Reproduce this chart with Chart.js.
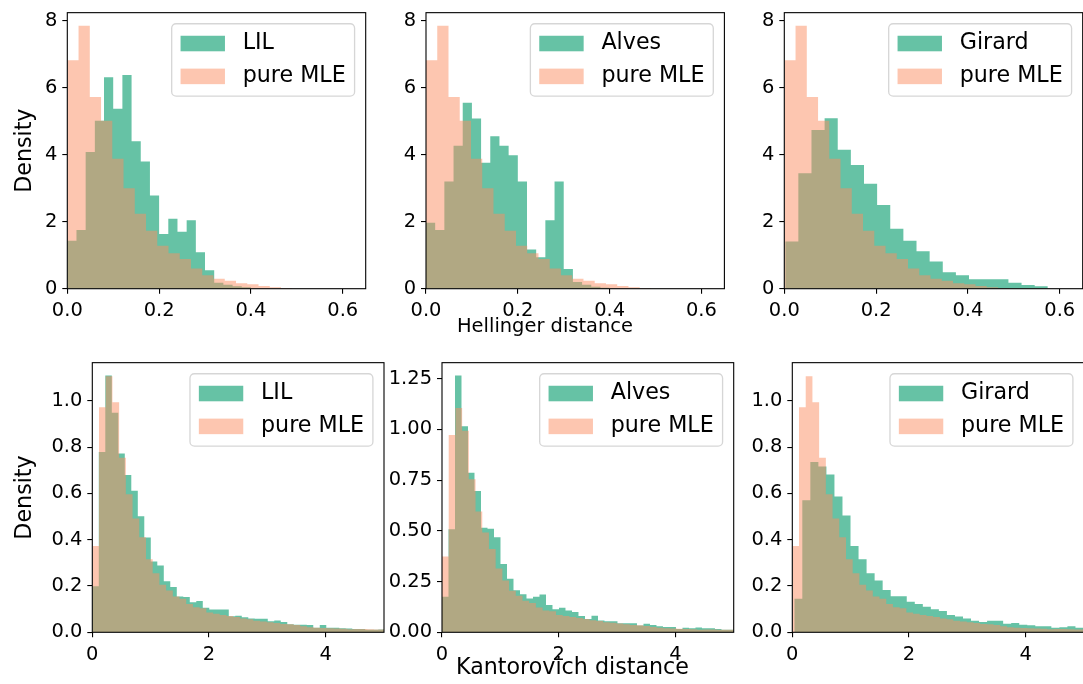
<!DOCTYPE html>
<html>
<head>
<meta charset="utf-8">
<script src="https://cdn.jsdelivr.net/npm/chart.js@4/dist/chart.umd.min.js"></script>
<style>
html, body { margin: 0; padding: 0; background: #ffffff; width: 1083px; height: 684px; overflow: hidden; }
.panel { position: absolute; }
.panel canvas { display: block; }
</style>
</head>
<body>
<div id="p1" class="panel"><canvas></canvas></div>
<div id="p2" class="panel"><canvas></canvas></div>
<div id="p3" class="panel"><canvas></canvas></div>
<div id="p4" class="panel"><canvas></canvas></div>
<div id="p5" class="panel"><canvas></canvas></div>
<div id="p6" class="panel"><canvas></canvas></div>
<script>
// ---------------- data ----------------
const methodNames = ['LIL', 'Alves', 'Girard'];
const baselineName = 'pure MLE';
const axisLabels = { density: 'Density', hellinger: 'Hellinger distance', kantorovich: 'Kantorovich distance' };

// tick values
const hellingerXTicks = [0, 0.2, 0.4, 0.6];
const hellingerYTicks = [0, 2, 4, 6, 8];
const kantorovichXTicks = [0, 2, 4];
const kantorovichYTicks = [0, 0.2, 0.4, 0.6, 0.8, 1.0];
const kantorovichYTicksAlves = [0, 0.25, 0.5, 0.75, 1.0, 1.25];

// Hellinger distance histograms (densities per bin)
const pureMleHellinger = [6.82, 7.85, 5.72, 5.01, 3.88, 3.0, 2.24, 1.73, 1.28, 1.06, 0.89, 0.6, 0.4, 0.3, 0.24, 0.16, 0.13, 0.08, 0.04, 0.02];
const pureMleHellingerBinStart = 0, pureMleHellingerBinWidth = 0.0245;
const lilHellinger = [1.43, 1.75, 4.08, 5.01, 6.31, 5.37, 6.38, 4.40, 3.80, 2.78, 1.63, 2.09, 1.70, 2.04, 1.09, 0.55, 0.18, 0.12, 0.07, 0.04];
const lilHellingerBinStart = 0, lilHellingerBinWidth = 0.02;
const alvesHellinger = [1.97, 1.75, 3.2, 4.27, 5.55, 5.08, 3.76, 4.55, 4.27, 3.98, 3.2, 1.17, 0.94, 2.04, 3.2, 0.59, 0.2, 0.12, 0.06, 0.03];
const alvesHellingerBinStart = 0, alvesHellingerBinWidth = 0.02;
const girardHellinger = [1.41, 3.45, 4.74, 5.09, 4.15, 3.69, 3.13, 2.5, 1.79, 1.43, 1.12, 0.81, 0.49, 0.40, 0.28, 0.28, 0.28, 0.18, 0.11, 0.07];
const girardHellingerBinStart = 0.002, girardHellingerBinWidth = 0.0286;

// Kantorovich distance histograms (densities per bin)
const pureMleKantorovich = [0.373, 0.972, 1.106, 0.993, 0.754, 0.596, 0.492, 0.411, 0.315, 0.255, 0.205, 0.18, 0.155, 0.145, 0.122, 0.108, 0.104, 0.085, 0.08, 0.075, 0.07, 0.066, 0.06, 0.056, 0.05, 0.047, 0.043, 0.04, 0.036, 0.035, 0.031, 0.026, 0.022, 0.02, 0.019, 0.017, 0.016, 0.015, 0.013, 0.014, 0.014, 0.013, 0.012, 0.012];
const pureMleKantorovichBinStart = 0, pureMleKantorovichBinWidth = 0.115;
const lilKantorovich = [0.199, 0.779, 1.109, 0.948, 0.772, 0.679, 0.611, 0.501, 0.409, 0.306, 0.288, 0.221, 0.196, 0.155, 0.152, 0.13, 0.135, 0.106, 0.098, 0.098, 0.098, 0.069, 0.072, 0.065, 0.06, 0.058, 0.058, 0.048, 0.051, 0.044, 0.035, 0.033, 0.033, 0.031, 0.020, 0.031, 0.020, 0.020, 0.017, 0.016, 0.014, 0.014, 0.011, 0.011, 0.012, 0.01];
const lilKantorovichBinStart = 0, lilKantorovichBinWidth = 0.1114;
const alvesKantorovich = [0.175, 0.508, 1.266, 1.015, 0.787, 0.696, 0.515, 0.51, 0.468, 0.337, 0.264, 0.207, 0.188, 0.167, 0.175, 0.186, 0.135, 0.113, 0.121, 0.107, 0.1, 0.08, 0.065, 0.081, 0.058, 0.054, 0.055, 0.045, 0.045, 0.045, 0.034, 0.042, 0.036, 0.03, 0.026, 0.026, 0.016, 0.023, 0.02, 0.024, 0.02, 0.02, 0.016, 0.013, 0.013, 0.012];
const alvesKantorovichBinStart = 0, alvesKantorovichBinWidth = 0.1114;
const girardKantorovich = [0.145, 0.57, 0.735, 0.716, 0.681, 0.586, 0.504, 0.373, 0.315, 0.255, 0.224, 0.183, 0.156, 0.156, 0.132, 0.122, 0.11, 0.1, 0.092, 0.075, 0.068, 0.06, 0.05, 0.044, 0.05, 0.05, 0.037, 0.04, 0.033, 0.03, 0.026, 0.026, 0.02, 0.022, 0.026, 0.02, 0.02];
const girardKantorovichBinStart = 0.034, girardKantorovichBinWidth = 0.1377;

// ---------------- styling ----------------
const FONT_FAMILY = "'DejaVu Sans', sans-serif";
const TICK_PX = 19.44;
const TITLE_PX = 22.2;
const LEGEND_PX = 22.2;
const METHOD_COLOR = 'rgba(102,194,165,1)';
const BASELINE_COLOR = 'rgba(252,141,98,0.5)';

function histPoints(values, start, width) {
  const pts = values.map((v, i) => ({ x: start + i * width, y: v }));
  pts.push({ x: start + values.length * width, y: 0 });
  return pts;
}

const framePlugin = {
  id: 'axesFrame',
  afterDatasetsDraw(chart) {
    const { ctx, chartArea: a } = chart;
    ctx.save();
    ctx.strokeStyle = '#000000';
    ctx.lineWidth = 1.1;
    ctx.strokeRect(a.left, a.top, a.right - a.left, a.bottom - a.top);
    ctx.restore();
  }
};

const insetLegendPlugin = {
  id: 'insetLegend',
  afterDraw(chart, args, opts) {
    const { ctx, chartArea: a } = chart;
    const F = opts.fontSize;
    ctx.save();
    ctx.font = F + 'px ' + FONT_FAMILY;
    const items = chart.data.datasets.map(d => ({ label: d.label, color: d.backgroundColor }));
    const textW = Math.max(...items.map(i => ctx.measureText(i.label).width));
    const pad = 0.4 * F, handle = 2 * F, gap = 0.8 * F, rowH = opts.rowHeight * F, spacing = 0.5 * F;
    const w = 2 * pad + handle + gap + textW;
    const h = 2 * pad + items.length * rowH + (items.length - 1) * spacing;
    const x = a.right - 0.5 * F - w, y = a.top + 0.5 * F;
    const r = 0.2 * F;
    ctx.beginPath();
    ctx.moveTo(x + r, y);
    ctx.arcTo(x + w, y, x + w, y + h, r);
    ctx.arcTo(x + w, y + h, x, y + h, r);
    ctx.arcTo(x, y + h, x, y, r);
    ctx.arcTo(x, y, x + w, y, r);
    ctx.closePath();
    ctx.fillStyle = 'rgba(255,255,255,0.8)';
    ctx.fill();
    ctx.strokeStyle = 'rgba(204,204,204,0.8)';
    ctx.lineWidth = 1.3;
    ctx.stroke();
    items.forEach((it, i) => {
      const cy = y + pad + rowH / 2 + i * (rowH + spacing);
      ctx.fillStyle = it.color;
      ctx.fillRect(x + pad, cy - 0.35 * F, handle, 0.7 * F);
      ctx.fillStyle = '#000000';
      ctx.textBaseline = 'middle';
      ctx.textAlign = 'left';
      ctx.fillText(it.label, x + pad + handle + gap, cy);
    });
    ctx.restore();
  }
};

// x-axis label placed at a fixed left edge (as in the figure)
const xLabelPlugin = {
  id: 'xLabel',
  afterDraw(chart, args, opts) {
    if (!opts.text) return;
    const ctx = chart.ctx;
    ctx.save();
    ctx.font = opts.size + 'px ' + FONT_FAMILY;
    ctx.fillStyle = '#000000';
    ctx.textAlign = 'left';
    ctx.textBaseline = 'middle';
    ctx.fillText(opts.text, opts.x, opts.y);
    ctx.restore();
  }
};

function makePanel(id, p) {
  const el = document.getElementById(id);
  const cl = Math.floor(p.left - p.yw);
  const ct = Math.floor(p.top - 12.5);
  const yw = p.left - cl;
  const tp = p.top - ct;
  const cw = Math.ceil(yw + p.width + 8);
  const rp = cw - yw - p.width;
  const ch = p.xTitleCenter ? Math.ceil(p.xTitleCenter + 16 - ct) : Math.ceil(tp + p.height + 45);
  const xh = ch - tp - p.height;
  el.style.left = cl + 'px'; el.style.top = ct + 'px';
  el.style.width = cw + 'px'; el.style.height = ch + 'px';
  const canvas = el.querySelector('canvas');
  canvas.width = cw; canvas.height = ch;
  canvas.style.width = cw + 'px'; canvas.style.height = ch + 'px';

  const tickFont = { family: FONT_FAMILY, size: TICK_PX, lineHeight: 1.2 };
  const titleFont = { family: FONT_FAMILY, size: TITLE_PX, lineHeight: 1.2 };
  const gridOpts = { display: true, drawOnChartArea: false, drawTicks: true, tickLength: 5, color: '#000000', lineWidth: 1.1 };

  new Chart(canvas, {
    type: 'line',
    data: {
      datasets: p.series.map(s => ({
        label: s.label,
        data: histPoints(s.values, s.start, s.width),
        stepped: true,
        fill: 'origin',
        backgroundColor: s.color,
        borderWidth: 0,
        pointRadius: 0,
        pointHoverRadius: 0,
        order: s.order
      }))
    },
    options: {
      responsive: false,
      animation: false,
      devicePixelRatio: 1,
      events: [],
      layout: { padding: { top: tp, right: rp, left: 0, bottom: 0 } },
      plugins: {
        legend: { display: false },
        tooltip: { enabled: false },
        insetLegend: { fontSize: LEGEND_PX, rowHeight: 0.98 },
        xLabel: { text: p.xTitle || '', size: p.xTitleSize || TITLE_PX, x: (p.xTitleLeft || 0) - cl, y: (p.xTitleCenter || 0) - ct }
      },
      scales: {
        x: {
          type: 'linear', min: 0, max: p.xmax,
          afterFit: s => { s.height = xh; },
          afterBuildTicks: s => { s.ticks = p.xticks.map(v => ({ value: v })); },
          ticks: { font: tickFont, color: '#000000', padding: 6, maxRotation: 0, autoSkip: false,
                   callback: v => Number(v).toFixed(p.xdec) },
          grid: gridOpts,
          border: { display: false },
          title: { display: false, text: p.xTitle || '' }
        },
        y: {
          type: 'linear', min: 0, max: p.ymax,
          afterFit: s => { s.width = yw; },
          afterBuildTicks: s => { s.ticks = p.yticks.map(v => ({ value: v })); },
          ticks: { font: tickFont, color: '#000000', padding: 5, autoSkip: false,
                   callback: v => Number(v).toFixed(p.ydec) },
          grid: gridOpts,
          border: { display: false },
          title: { display: !!p.yTitle, text: p.yTitle || '', font: titleFont, color: '#000000', padding: 0 }
        }
      }
    },
    plugins: [framePlugin, insetLegendPlugin, xLabelPlugin]
  });
}

function series(label, values, start, width, color, order) {
  return { label, values, start, width, color, order };
}

const topRow = { top: 8.5, height: 280.2, width: 298.4, xmax: 0.65, ymax: 8.24, xticks: hellingerXTicks, yticks: hellingerYTicks, xdec: 1, ydec: 0 };
const botRow = { top: 358.7, height: 273.6, width: 291.7, xmax: 5, xticks: kantorovichXTicks, xdec: 0 };

makePanel('p1', Object.assign({}, topRow, { left: 67.3, yw: 54.8, yTitle: axisLabels.density,
  series: [series(methodNames[0], lilHellinger, lilHellingerBinStart, lilHellingerBinWidth, METHOD_COLOR, 2),
           series(baselineName, pureMleHellinger, pureMleHellingerBinStart, pureMleHellingerBinWidth, BASELINE_COLOR, 1)] }));
makePanel('p2', Object.assign({}, topRow, { left: 426.0, yw: 54, xTitle: axisLabels.hellinger, xTitleCenter: 327, xTitleLeft: 457, xTitleSize: TICK_PX,
  series: [series(methodNames[1], alvesHellinger, alvesHellingerBinStart, alvesHellingerBinWidth, METHOD_COLOR, 2),
           series(baselineName, pureMleHellinger, pureMleHellingerBinStart, pureMleHellingerBinWidth, BASELINE_COLOR, 1)] }));
makePanel('p3', Object.assign({}, topRow, { left: 784.3, yw: 54,
  series: [series(methodNames[2], girardHellinger, girardHellingerBinStart, girardHellingerBinWidth, METHOD_COLOR, 2),
           series(baselineName, pureMleHellinger, pureMleHellingerBinStart, pureMleHellingerBinWidth, BASELINE_COLOR, 1)] }));
makePanel('p4', Object.assign({}, botRow, { left: 92.3, yw: 79.8, ymax: 1.1645, yticks: kantorovichYTicks, ydec: 1, yTitle: axisLabels.density,
  series: [series(methodNames[0], lilKantorovich, lilKantorovichBinStart, lilKantorovichBinWidth, METHOD_COLOR, 2),
           series(baselineName, pureMleKantorovich, pureMleKantorovichBinStart, pureMleKantorovichBinWidth, BASELINE_COLOR, 1)] }));
makePanel('p5', Object.assign({}, botRow, { left: 442.0, yw: 70, ymax: 1.329, yticks: kantorovichYTicksAlves, ydec: 2, xTitle: axisLabels.kantorovich, xTitleCenter: 668, xTitleLeft: 456, xTitleSize: TITLE_PX,
  series: [series(methodNames[1], alvesKantorovich, alvesKantorovichBinStart, alvesKantorovichBinWidth, METHOD_COLOR, 2),
           series(baselineName, pureMleKantorovich, pureMleKantorovichBinStart, pureMleKantorovichBinWidth, BASELINE_COLOR, 1)] }));
makePanel('p6', Object.assign({}, botRow, { left: 792.3, yw: 60, ymax: 1.1645, yticks: kantorovichYTicks, ydec: 1,
  series: [series(methodNames[2], girardKantorovich, girardKantorovichBinStart, girardKantorovichBinWidth, METHOD_COLOR, 2),
           series(baselineName, pureMleKantorovich, pureMleKantorovichBinStart, pureMleKantorovichBinWidth, BASELINE_COLOR, 1)] }));
</script>
</body>
</html>
